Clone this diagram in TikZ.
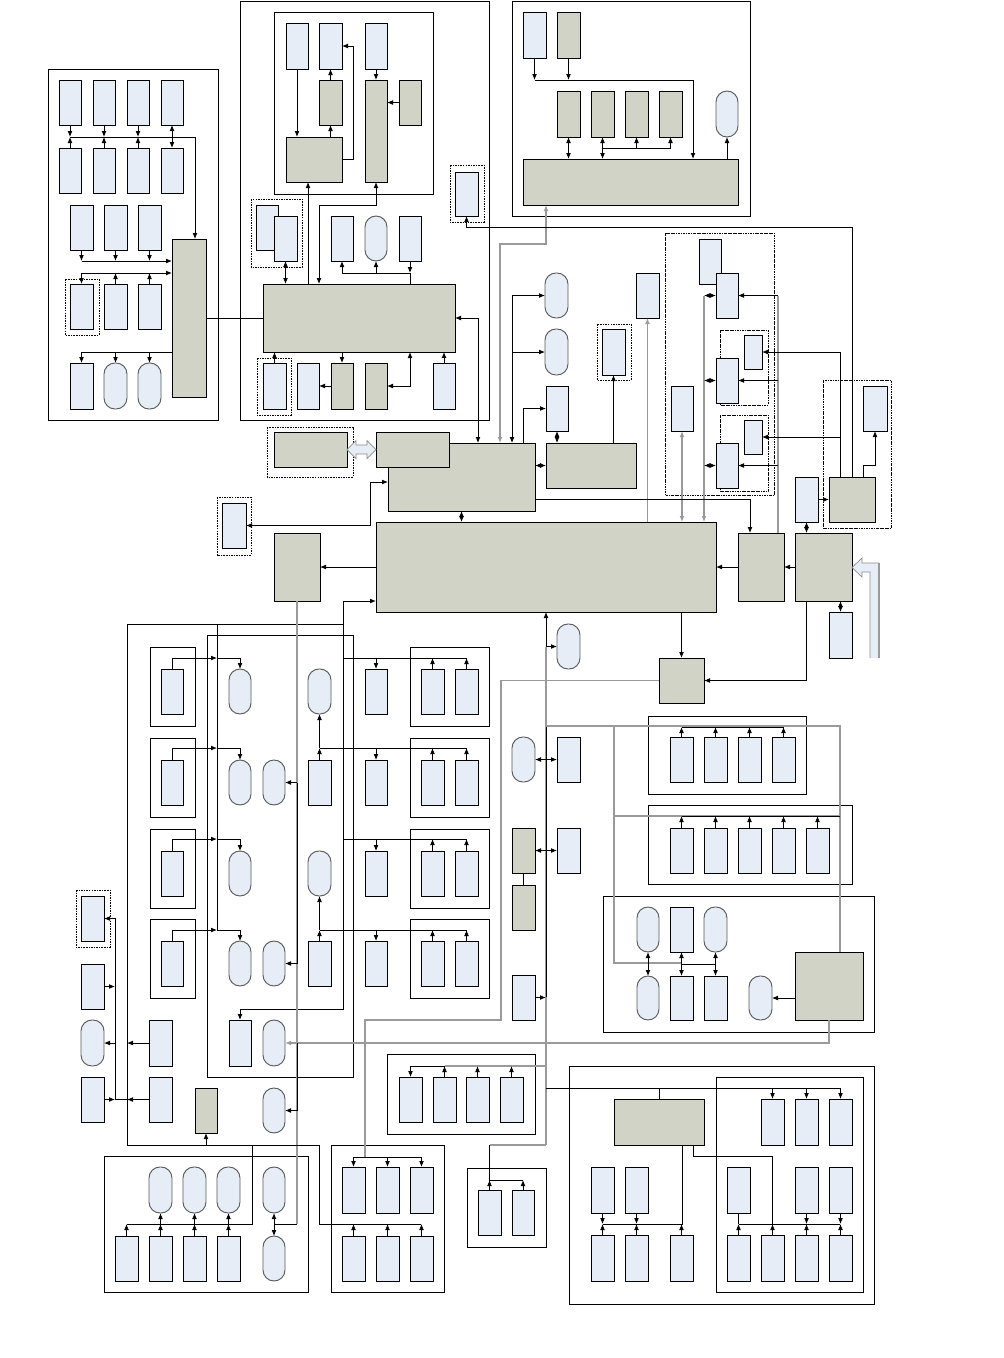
\documentclass[tikz,border=0pt]{standalone}
\usepackage{tikz}
\usetikzlibrary{positioning,arrows.meta,fit,calc}
\definecolor{bxfill}{HTML}{E6EDF7}
\definecolor{gxfill}{HTML}{D2D3C7}
\definecolor{glin}{HTML}{9A9A9A}
\tikzset{
  bx/.style={draw,fill=bxfill,line width=0.8pt,inner sep=0pt,outer sep=0pt},
  gx/.style={draw,fill=gxfill,line width=0.8pt,inner sep=0pt,outer sep=0pt},
  pill/.style={draw=black!65,fill=bxfill,line width=0.8pt,rounded corners=3.3mm,inner sep=0pt,outer sep=0pt},
  frm/.style={line width=0.8pt},
  dfrm/.style={line width=0.6pt,dash pattern=on 1.3pt off 0.9pt},
  ddfrm/.style={line width=0.6pt,dash pattern=on 2.2pt off 0.8pt on 0.6pt off 0.8pt},
  ln/.style={line width=0.7pt},
  ar/.style={ln,-{Latex[length=1.8mm,width=1.45mm]}},
  dar/.style={ln,{Latex[length=1.8mm,width=1.45mm]}-{Latex[length=1.8mm,width=1.45mm]}},
  gln/.style={line width=1.2pt,draw=glin},
  hol/.style={fill=bxfill,draw=black!45,line width=0.6pt},
}
\begin{document}
\begin{tikzpicture}[x=0.3mm,y=-0.3mm]
  \useasboundingbox (0,0) rectangle (1004,1358);

  % ---- top left block ----
  \draw[frm] (48,69) rectangle (218,420);
  \foreach \n/\x in {1/59,2/93,3/127,4/161}{
    \node[bx,fit={(\x,80)(\x+22,125)}] (a\n) {};
    \node[bx,fit={(\x,148)(\x+22,193)}] (b\n) {};
  }
  \foreach \n/\x in {1/70,2/104,3/138}{
    \node[bx,fit={(\x,205)(\x+23,250)}] (c\n) {};
    \node[bx,fit={(\x,284)(\x+23,329)}] (d\n) {};
  }
  \draw[dfrm] (65,279) rectangle (99,335);
  \node[bx,fit={(70,363)(93,409)}] (e1) {};
  \node[pill,fit={(104,363)(127,409)}] (e2) {};
  \node[pill,fit={(138,363)(161,409)}] (e3) {};
  \node[gx,fit={(172,239)(206,397)}] (hubA) {};

  % ---- second block ----
  \draw[frm] (240,1) rectangle (489,420);
  \draw[frm] (274,12) rectangle (433,194);
  \node[bx,fit={(286,23)(308,69)}] (f1) {};
  \node[bx,fit={(319,23)(342,69)}] (f2) {};
  \node[bx,fit={(365,23)(387,69)}] (f3) {};
  \node[gx,fit={(319,80)(342,125)}] (g1) {};
  \node[gx,fit={(365,80)(387,182)}] (g2) {};
  \node[gx,fit={(399,80)(421,125)}] (g3) {};
  \node[gx,fit={(286,137)(342,182)}] (g4) {};
  \draw[dfrm] (251,199) rectangle (302,267);
  \node[bx,fit={(256,205)(278,250)}] (p1) {};
  \node[bx,fit={(274,216)(297,261)}] (p2) {};
  \node[bx,fit={(331,216)(353,261)}] (q1) {};
  \node[pill,fit={(365,216)(387,261)}] (q2) {};
  \node[bx,fit={(399,216)(421,261)}] (q3) {};
  \node[gx,fit={(263,284)(455,352)}] (bigB) {};
  \draw[dfrm] (257,358) rectangle (291,415);
  \node[bx,fit={(263,363)(286,409)}] (r1) {};
  \node[bx,fit={(297,363)(319,409)}] (r2) {};
  \node[gx,fit={(331,363)(353,409)}] (r3) {};
  \node[gx,fit={(365,363)(387,409)}] (r4) {};
  \node[bx,fit={(433,363)(455,409)}] (r5) {};
  \draw[dfrm] (450,165) rectangle (484,222);
  \node[bx,fit={(455,172)(478,216)}] (s1) {};

  % ---- top right block ----
  \draw[frm] (512,1) rectangle (750,216);
  \node[bx,fit={(523,12)(546,58)}] (h1) {};
  \node[gx,fit={(557,12)(580,58)}] (h2) {};
  \foreach \n/\x in {1/557,2/591,3/625,4/659} \node[gx,fit={(\x,91)(\x+23,137)}] (i\n) {};
  \node[pill,fit={(716,91)(738,137)}] (i5) {};
  \node[gx,fit={(523,159)(738,205)}] (hubC) {};

  % ---- centre ----
  \node[gx,fit={(388,443)(535,511)}] (mA) {};
  \node[gx,fit={(376,432)(449,467)}] (mB) {};
  \node[gx,fit={(546,443)(636,488)}] (mC) {};
  \draw[dfrm] (267,427) rectangle (353,477);
  \node[gx,fit={(274,432)(347,467)}] (mD) {};
  \node[gx,fit={(376,522)(716,612)}] (core) {};
  \draw[dfrm] (217,497) rectangle (251,555);
  \node[bx,fit={(222,503)(246,548)}] (t1) {};
  \node[gx,fit={(274,533)(320,601)}] (u1) {};
  \node[pill,fit={(545,273)(568,318)}] (v1) {};
  \node[pill,fit={(545,329)(568,375)}] (v2) {};
  \node[bx,fit={(546,386)(568,431)}] (v3) {};
  \draw[dfrm] (597,324) rectangle (631,380);
  \node[bx,fit={(602,329)(625,375)}] (w1) {};
  \node[bx,fit={(636,273)(659,318)}] (w2) {};
  \node[pill,fit={(557,624)(580,669)}] (v4) {};
  \draw[ddfrm] (665,233) rectangle (774,495);
  \node[bx,fit={(699,239)(721,284)}] (x1) {};
  \node[bx,fit={(716,273)(738,318)}] (x2) {};
  \node[bx,fit={(671,386)(693,431)}] (x3) {};
  \draw[ddfrm] (720,330) rectangle (768,405);
  \node[bx,fit={(744,335)(762,369)}] (x4) {};
  \node[bx,fit={(716,358)(738,403)}] (x5) {};
  \draw[ddfrm] (720,415) rectangle (768,491);
  \node[bx,fit={(744,420)(762,454)}] (x6) {};
  \node[bx,fit={(716,443)(738,488)}] (x7) {};
  \node[gx,fit={(738,533)(784,601)}] (kA) {};
  \node[gx,fit={(795,533)(852,601)}] (kB) {};
  \draw[ddfrm] (823,380) rectangle (891,528);
  \node[bx,fit={(863,386)(887,431)}] (y1) {};
  \node[gx,fit={(829,477)(875,522)}] (kC) {};
  \node[bx,fit={(795,477)(818,522)}] (y2) {};
  \node[bx,fit={(829,612)(852,658)}] (z1) {};
  \node[gx,fit={(659,658)(704,703)}] (kD) {};

  % ---- left middle module ----
  \draw[frm] (207,635) rectangle (353,1077);
  \foreach \j/\ya in {1/669,2/760,3/851,4/941}{
    \draw[frm] (150,\ya-22) rectangle (195,\ya+57);
    \draw[frm] (410,\ya-22) rectangle (489,\ya+57);
    \node[bx,fit={(161,\ya)(183,\ya+45)}] (L\j) {};
    \node[pill,fit={(229,\ya)(251,\ya+45)}] (A\j) {};
    \node[bx,fit={(365,\ya)(387,\ya+45)}] (D\j) {};
    \node[bx,fit={(421,\ya)(444,\ya+45)}] (E\j) {};
    \node[bx,fit={(455,\ya)(478,\ya+45)}] (F\j) {};
  }
  \node[pill,fit={(308,669)(331,714)}] (C1) {};
  \node[bx,fit={(308,760)(331,805)}] (C2) {};
  \node[pill,fit={(308,851)(331,896)}] (C3) {};
  \node[bx,fit={(308,941)(331,986)}] (C4) {};
  \node[pill,fit={(263,760)(285,805)}] (B2) {};
  \node[pill,fit={(263,941)(285,986)}] (B4) {};
  \node[bx,fit={(229,1020)(251,1066)}] (rB1) {};
  \node[pill,fit={(263,1020)(285,1066)}] (G1) {};
  \node[pill,fit={(263,1088)(285,1133)}] (G2) {};
  \node[bx,fit={(149,1020)(172,1066)}] (M1) {};
  \node[bx,fit={(149,1077)(172,1122)}] (M2) {};
  \node[gx,fit={(195,1088)(217,1133)}] (GB) {};
  \draw[dfrm] (76,890) rectangle (110,947);
  \node[bx,fit={(81,896)(104,941)}] (N1) {};
  \node[bx,fit={(81,964)(104,1009)}] (N2) {};
  \node[pill,fit={(81,1020)(104,1066)}] (N3) {};
  \node[bx,fit={(81,1077)(104,1122)}] (N4) {};

  % ---- bottom row ----
  \draw[frm] (104,1156) rectangle (308,1292);
  \foreach \n/\x in {1/149,2/183,3/217} \node[pill,fit={(\x,1167)(\x+23,1213)}] (P\n) {};
  \node[pill,fit={(263,1167)(285,1213)}] (P4) {};
  \foreach \n/\x in {1/115,2/149,3/183,4/217} \node[bx,fit={(\x,1236)(\x+23,1281)}] (Q\n) {};
  \node[pill,fit={(263,1236)(285,1281)}] (Q5) {};
  \draw[frm] (331,1145) rectangle (444,1292);
  \foreach \n/\x in {1/342,2/376,3/410}{
    \node[bx,fit={(\x,1167)(\x+23,1213)}] (S\n) {};
    \node[bx,fit={(\x,1236)(\x+23,1281)}] (T\n) {};
  }
  \draw[frm] (467,1168) rectangle (546,1247);
  \node[bx,fit={(478,1190)(501,1235)}] (U1) {};
  \node[bx,fit={(512,1190)(534,1235)}] (U2) {};
  \draw[frm] (387,1054) rectangle (535,1134);
  \foreach \n/\x in {1/399,2/433,3/466,4/500} \node[bx,fit={(\x,1077)(\x+23,1122)}] (V\n) {};

  % ---- right middle ----
  \node[pill,fit={(512,737)(535,782)}] (W1) {};
  \node[bx,fit={(557,737)(580,782)}] (W2) {};
  \node[gx,fit={(512,828)(535,873)}] (W3) {};
  \node[bx,fit={(557,828)(580,873)}] (W4) {};
  \node[gx,fit={(512,885)(535,930)}] (W5) {};
  \node[bx,fit={(512,975)(535,1020)}] (W6) {};
  \draw[frm] (648,716) rectangle (806,794);
  \draw[frm] (648,805) rectangle (852,884);
  \draw[frm] (603,896) rectangle (874,1032);
  \foreach \n/\x in {1/670,2/704,3/738,4/772} \node[bx,fit={(\x,737)(\x+23,782)}] (AA\n) {};
  \foreach \n/\x in {1/670,2/704,3/738,4/772,5/806} \node[bx,fit={(\x,828)(\x+23,873)}] (BB\n) {};
  \node[pill,fit={(637,907)(659,952)}] (CC1) {};
  \node[bx,fit={(670,907)(693,952)}] (CC2) {};
  \node[pill,fit={(704,907)(727,952)}] (CC3) {};
  \node[pill,fit={(637,976)(659,1020)}] (CC4) {};
  \node[bx,fit={(670,976)(693,1020)}] (CC5) {};
  \node[bx,fit={(704,976)(727,1020)}] (CC6) {};
  \node[pill,fit={(749,976)(772,1020)}] (CC7) {};
  \node[gx,fit={(795,952)(863,1020)}] (kE) {};

  % ---- bottom right ----
  \draw[frm] (569,1066) rectangle (874,1304);
  \draw[frm] (716,1077) rectangle (863,1292);
  \node[gx,fit={(614,1099)(704,1145)}] (HH) {};
  \foreach \n/\x in {1/761,2/795,3/829} \node[bx,fit={(\x,1099)(\x+23,1145)}] (R\n) {};
  \foreach \n/\x in {1/591,2/625,3/727,4/795,5/829} \node[bx,fit={(\x,1167)(\x+23,1213)}] (K\n) {};
  \foreach \n/\x in {1/591,2/625,3/670,4/727,5/761,6/795,7/829} \node[bx,fit={(\x,1235)(\x+23,1281)}] (Z\n) {};

  % ===== connectors =====
  % top left
  \coordinate (busA) at (195,137);
  \coordinate (busC) at (172,261);
  \coordinate (busD) at (172,273);
  \coordinate (busE) at (172,352);
  \draw[ar] (a1 |- busA) -- (busA) -- (busA |- hubA.north);
  \foreach \i in {1,2,3}{ \draw[ar] (a\i) -- (a\i |- busA); \draw[ar] (b\i) -- (b\i |- busA); }
  \draw[dar] (a4) -- (b4);
  \draw[ar] (c1 |- busC) -- (busC);
  \foreach \i in {1,2,3} \draw[ar] (c\i) -- (c\i |- busC);
  \draw[dar] (d1) |- (busD);
  \draw[ar] (d2) -- (d2 |- busD);
  \draw[ar] (d3) -- (d3 |- busD);
  \draw[ln] (busE) -- (e1 |- busE);
  \foreach \i in {1,2,3} \draw[ar] (e\i |- busE) -- (e\i);
  \draw[ln] (hubA) -- (bigB);

  % second block
  \draw[ar] (f1) -- (f1 |- g4.north);
  \draw[ar] (g1) -- (f2);
  \draw[ar] (g1 |- g4.north) -- (g1);
  \draw[ar] (g4.east) -- ++(11,0) |- (f2.east);
  \draw[ar] (f3) -- (g2);
  \draw[ar] (g3.west) -- (g3.west -| g2.east);
  \draw[dar] (p2) -- (p2 |- bigB.north);
  \draw[ar] (bigB.north -| 308,0) -- (g4.south -| 308,0);
  \draw[dar] (bigB.north -| 319,0) -- ++(0,-79) -| (g2.south);
  \coordinate (busQ) at (410,273);
  \draw[ar] (q3) -- (q3 |- busQ);
  \draw[ln] (busQ) -- (q3 |- bigB.north);
  \draw[ar] (busQ) -| (q1);
  \draw[ar] (q2 |- busQ) -- (q2);
  \draw[ar] (r1) -- (r1 |- bigB.south);
  \draw[ar] (r3 |- bigB.south) -- (r3);
  \draw[ar] (r3) -- (r2);
  \draw[dar] (bigB.south -| 410,0) |- (r4.east);
  \draw[ar] (r5) -- (r5 |- bigB.south);
  \draw[dar] (bigB.east) -- ++(23,0) -- (mA.north -| 478,0);

  % top right block
  \coordinate (busH) at (693,80);
  \coordinate (busI) at (671,148);
  \draw[ar] (h1 |- busH) -- (busH) -- (busH |- hubC.north);
  \draw[ar] (h1) -- (h1 |- busH);
  \draw[ar] (h2) -- (h2 |- busH);
  \draw[dar] (i1) -- (i1 |- hubC.north);
  \draw[dar] (i2) -- (i2 |- hubC.north);
  \draw[ar] (i2 |- busI) -| (i4);
  \draw[ar] (i3 |- busI) -- (i3);
  \draw[ar] (hubC.north -| i5) -- (i5);
  \draw[dar,gln] (mA.north -| 500,0) -- ++(0,-199) -| (hubC.south -| 546,0);

  % centre
  \draw[dar] (t1.east) -- (t1.east -| 370,0) |- (mA.west |- 0,482);
  \draw[dar] (mA) -- (mA |- core.north);
  \draw[dar] (mC.west -| mA.east) -- (mC.west);
  \draw[ar] (core.west |- u1) -- (u1);
  \draw[ar] (v1.west -| 512,0) -- (mA.north -| 512,0);
  \draw[ar] (v1.west -| 512,0) -- (v1.west);
  \draw[ar] (v2.west -| 512,0) -- (v2.west);
  \draw[ar] (mA.north -| 523,0) |- (v3.west);
  \draw[dar] (v3) -- (v3 |- mC.north);
  \draw[ar] (mC.north -| w1) -- (w1);
  \draw[ar,gln] (core.north -| w2) -- (w2);
  \draw[ar] (v4.west -| 546,0) -- (core.south -| 546,0);
  \draw[ar] (v4.west -| 546,0) -- (v4.west);
  \draw[ar,gln] (x2.west -| 704,0) -- (core.north -| 704,0);
  \foreach \n in {2,5,7} \draw[dar] (x\n.west -| 704,0) -- (x\n.west);
  \draw[gln] (x2.east -| 778,0) -- (kA.north -| 778,0);
  \foreach \n in {2,5,7} \draw[ar] (x\n.east -| 778,0) -- (x\n.east);
  \draw[ln] (x4.east -| 840,0) -- (kC.north -| 840,0);
  \draw[ar] (x4.east -| 840,0) -- (x4.east);
  \draw[ar] (x6.east -| 840,0) -- (x6.east);
  \draw[ar] (kC.north -| 852,0) -- ++(0,-250) -| (s1.south);
  \draw[dar,gln] (x3) -- (x3 |- core.north);
  \draw[ar] (mA.east |- 0,499) -| (kA.north -| 750,0);
  \draw[ar] (kC.north -| 863,0) -- ++(0,-12) -| (y1.south);
  \draw[ar] (y2) -- (kC);
  \draw[dar] (y2) -- (y2 |- kB.north);
  \draw[ar] (kB) -- (kA);
  \draw[ar] (kA) -- (core);
  \draw[dar] (kB.south -| z1) -- (z1);
  \draw[ar] (core.south -| kD) -- (kD);
  \draw[ar] (kB.south -| 806,0) |- (kD.east);
  \draw[hol] (347,449.5) -- (356,440.5) -- (356,445) -- (367,445) -- (367,440.5) -- (376,449.5)
    -- (367,458.5) -- (367,454) -- (356,454) -- (356,458.5) -- cycle;
  \fill[bxfill] (870,658) -- (870,572) -- (862,572) -- (862,577) -- (852,567.5) -- (862,558)
    -- (862,563) -- (879,563) -- (879,658) -- cycle;
  \draw[black!45,line width=0.6pt] (870,658) -- (870,572) -- (862,572) -- (862,577) -- (852,567.5)
    -- (862,558) -- (862,563) -- (879,563);
  \draw[black!40,line width=1.3pt] (879,563) -- (879,658);

  % left middle module
  \coordinate (jL) at (343,624);
  \coordinate (vL) at (217,624);
  \coordinate (jB) at (127,1145);
  \draw[ln] (jB) |- (jL);
  \draw[ar] (jL) |- (core.west |- 0,601);
  \draw[ar] (jL) -- (jL |- 0,1009) -| (rB1);
  \draw[ln] (vL) -- (vL |- 0,930);
  \foreach \j/\yb in {1/658,2/748,3/839,4/930}{
    \draw[ar] (L\j) |- (vL |- 0,\yb);
    \draw[ar] (vL |- 0,\yb) -| (A\j);
    \draw[ar] (D\j |- 0,\yb) -- (D\j);
    \draw[ar] (E\j) -- (E\j |- 0,\yb);
    \draw[ar] (F\j) -- (F\j |- 0,\yb);
  }
  \draw[ln] (jL |- 0,658) -- (F1 |- 0,658);
  \draw[ln] (jL |- 0,839) -- (F3 |- 0,839);
  \draw[ln] (C2 |- 0,748) -- (F2 |- 0,748);
  \draw[ln] (C4 |- 0,930) -- (F4 |- 0,930);
  \draw[ar] (C2) -- (C2 |- 0,748);
  \draw[ar] (C2 |- 0,748) -- (C1);
  \draw[ar] (C4) -- (C4 |- 0,930);
  \draw[ar] (C4 |- 0,930) -- (C3);
  \draw[gln] (u1) -- (u1 |- 0,1224);
  \draw[ln] (B2.east -| u1) -- (B4.east -| u1);
  \draw[ar] (B2.east -| u1) -- (B2.east);
  \draw[ar] (B4.east -| u1) -- (B4.east);
  \draw[ar,gln] (kE.south) |- (G1.east);
  \draw[ar] (G1.east -| u1) |- (G2.east);
  \draw[ar] (M1.west) -- (M1.west -| jB);
  \draw[ar] (M2.west) -- (M2.west -| jB);
  \draw[ln] (M2.west -| jB) -- (N4.east -| 115,0);
  \draw[ar] (N4.east) -- (N4.east -| 115,0);
  \draw[ar] (N4.east -| 115,0) |- (N1.east);
  \draw[ar] (N2.east) -- (N2.east -| 115,0);
  \draw[ar] (N3.east -| 115,0) -- (N3.east);
  \draw[ar] (GB.south |- jB) -- (GB);

  % bottom row
  \coordinate (busP) at (252,1224);
  \draw[ln] (Q1 |- busP) -- (busP) -- (busP |- jB);
  \foreach \n in {1,...,4} \draw[ar] (Q\n) -- (Q\n |- busP);
  \foreach \n/\m in {2/1,3/2,4/3} \draw[ar] (Q\n |- busP) -- (P\m);
  \draw[dar] (P4) -- (Q5);
  \draw[ln] (P4 |- busP) -- (u1 |- busP);
  \coordinate (busS) at (421,1157);
  \coordinate (busT) at (421,1224);
  \draw[ln] (S1 |- busS) -- (busS);
  \foreach \n in {1,2,3} \draw[ar] (S\n |- busS) -- (S\n);
  \draw[ln] (jB) -- (jB -| 319,0) |- (busT);
  \foreach \n in {1,2,3} \draw[ar] (T\n) -- (T\n |- busT);
  \draw[gln] (kD.west) -- ++(-158,0) -- ++(0,339.5) -| (busS -| 365,0);
  \coordinate (busU) at (523,1180);
  \draw[ln] (U1 |- jB) -- (U1 |- busU) -- (busU);
  \draw[gln] (U1 |- jB) -- (546,1145);
  \foreach \n in {1,2} \draw[ar] (U\n) -- (U\n |- busU);
  \coordinate (busV) at (546,1066);
  \draw[ln] (V1 |- busV) -- (V2 |- busV);
  \draw[gln] (V2 |- busV) -- (busV);
  \draw[ar] (V1 |- busV) -- (V1);
  \foreach \n in {2,3,4} \draw[ar] (V\n) -- (V\n |- busV);

  % right middle
  \draw[gln] (v4.west -| 546,0) -- (546,1145);
  \draw[ln] (546,726) -- (546,997);
  \draw[dar] (W1) -- (W2);
  \draw[dar] (W3) -- (W4);
  \draw[ln] (W3) -- (W5);
  \draw[ar] (W6) -- (W6 -| 546,0);
  \draw[gln] (546,726) -| (kE.north -| 840,0);
  \draw[ln] (AA1 |- 0,727) -- (AA4 |- 0,727);
  \foreach \n in {1,...,4} \draw[ar] (AA\n) -- (AA\n |- 0,727);
  \draw[gln] (614,726) |- (CC5 |- 0,963);
  \draw[gln] (614,816) -- (840,816);
  \draw[ln] (BB1 |- 0,816) -- (840,816);
  \foreach \n in {1,...,5} \draw[ar] (BB\n) -- (BB\n |- 0,816);
  \draw[dar] (CC1) -- (CC4);
  \draw[dar] (CC2) -- (CC5);
  \draw[dar] (CC3) -- (CC6);
  \draw[ln] (CC5 |- 0,964) -- (CC6 |- 0,964);
  \draw[ar] (kE.west |- CC7) -- (CC7);

  % bottom right
  \coordinate (busR) at (840,1088);
  \draw[ln] (546,1088) -- (busR);
  \draw[ln] (HH) -- (HH |- busR);
  \foreach \n in {1,2,3} \draw[ar] (R\n |- busR) -- (R\n);
  \coordinate (busK) at (682,1224);
  \draw[ln] (K1 |- busK) -- (busK) -- (busK |- HH.south);
  \foreach \n in {1,2}{ \draw[ar] (K\n) -- (K\n |- busK); \draw[ar] (Z\n) -- (Z\n |- busK); }
  \draw[ar] (Z3) -- (Z3 |- busK);
  \coordinate (busZ) at (840,1224);
  \draw[ln] (K3 |- busZ) -- (busZ);
  \draw[ln] (K3) -- (K3 |- busZ);
  \draw[ar] (Z4) -- (Z4 |- busZ);
  \draw[ar] (Z5) -- (Z5 |- busZ);
  \draw[ln] (Z5 |- busZ) -- (Z5 |- 0,1156) -| (HH.south -| 693,0);
  \foreach \n in {4,5} \draw[ar] (K\n) -- (K\n |- busZ);
  \foreach \n in {6,7} \draw[ar] (Z\n) -- (Z\n |- busZ);
\end{tikzpicture}
\end{document}
